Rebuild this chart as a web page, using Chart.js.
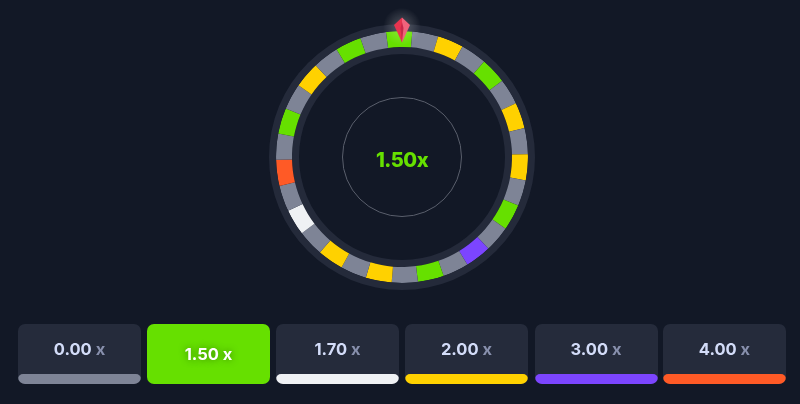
<!DOCTYPE html>
<html><head><meta charset="utf-8">
<style>
html,body{margin:0;padding:0;background:#121826;width:800px;height:404px;overflow:hidden;font-family:Inter,"Noto Sans",sans-serif}
#wrap{position:absolute;left:0;top:0;width:800px;height:404px}
.card{position:absolute;top:324px;width:123px;height:60px;border-radius:7px;background:#252b3b;overflow:hidden;text-align:center}
.card .t{position:absolute;left:0;right:0;top:15px;line-height:20px;font-size:16.5px;font-weight:700;color:#d3dcf8}
.card .t span{color:#8890ad}
.card .b{position:absolute;left:0;right:0;bottom:0;height:10.5px;border-radius:6px}
.card.on{background:#66e000}
.card.on .t{top:20px;color:#fff;text-shadow:0 0 7px rgba(40,110,0,.8)}
.card.on .t span{color:#fff}
.card.on .b{display:none}
</style>
<script src="https://cdn.jsdelivr.net/npm/chart.js@4/dist/chart.umd.min.js"></script>
</head><body>
<div id="wrap"><canvas id="c" width="800" height="404"></canvas></div>
<script>
const wheelValues=[1.5,0,2,0,1.5,0,2,0,2,0,1.5,0,3,0,1.5,0,2,0,2,0,1.7,0,4,0,1.5,0,2,0,1.5,0];
const payoutLabels=["0.00","1.50","1.70","2.00","3.00","4.00"];
const payoutValues=[0,1.5,1.7,2,3,4];
const payoutColors=["#7e8496","#66e000","#eff1f4","#ffd100","#7c45ff","#ff5a26"];
const cardLefts=[18,147,276,405,534.5,663];
const selectedPayout="1.50";
const ringColor="#242a3a";

const colorOf=v=>payoutColors[payoutValues.indexOf(v)];

const deco={id:'deco',
 afterDraw(ch){
  const m=ch.getDatasetMeta(1).data[0];
  const cx=m.x,cy=m.y,g=ch.ctx;
  g.save();
  g.beginPath();g.arc(cx,cy,59.5,0,Math.PI*2);g.strokeStyle="#5a5f6c";g.lineWidth=1;g.stroke();
  g.fillStyle="#66e000";g.font="800 20px Inter";g.textAlign="center";g.textBaseline="middle";
  g.letterSpacing="-0.5px";
  g.fillText(selectedPayout+"x",cx,cy+4);
  g.letterSpacing="0px";
  // pointer gem
  const top=cy-139.5,wide=cy-132,tip=cy-114.5;
  const glow=g.createRadialGradient(cx,top+9,3,cx,top+9,19);
  glow.addColorStop(0,"rgba(255,255,255,.22)");glow.addColorStop(1,"rgba(255,255,255,0)");
  g.fillStyle=glow;g.beginPath();g.arc(cx,top+9,19,0,Math.PI*2);g.fill();
  g.fillStyle="#e8344f";g.beginPath();g.moveTo(cx,top);g.lineTo(cx-8,wide);g.lineTo(cx,tip);g.fill();
  g.fillStyle="#f0637c";g.beginPath();g.moveTo(cx,top);g.lineTo(cx+8,wide);g.lineTo(cx,tip);g.fill();
  g.fillStyle="#c9284a";g.beginPath();g.moveTo(cx,wide-3);g.lineTo(cx-1.5,wide+3);g.lineTo(cx,tip);g.lineTo(cx+1.5,wide+3);g.fill();
  g.restore();
 }};

new Chart(document.getElementById('c'),{
 type:'doughnut',
 data:{labels:wheelValues.map(v=>v.toFixed(2)+" x"),
  datasets:[
   {data:[1],backgroundColor:ringColor,weight:7,borderWidth:0,rotation:0},
   {data:wheelValues.map(()=>1),backgroundColor:wheelValues.map(colorOf),weight:16,borderWidth:0},
   {data:[1],backgroundColor:ringColor,weight:7,borderWidth:0,rotation:0}
  ]},
 options:{responsive:false,animation:false,events:[],
  rotation:-7.3,cutout:103,
  layout:{padding:{left:4,right:0,top:24,bottom:114}},
  plugins:{legend:{display:false},tooltip:{enabled:false}}},
 plugins:[deco]
});

const wrap=document.getElementById('wrap');
payoutLabels.forEach((l,i)=>{
 const d=document.createElement('div');
 d.className='card'+(l===selectedPayout?' on':'');
 d.style.left=cardLefts[i]+'px';
 d.innerHTML='<div class="t">'+l+' <span>x</span></div><div class="b" style="background:'+payoutColors[i]+'"></div>';
 wrap.appendChild(d);
});
</script>
</body></html>
